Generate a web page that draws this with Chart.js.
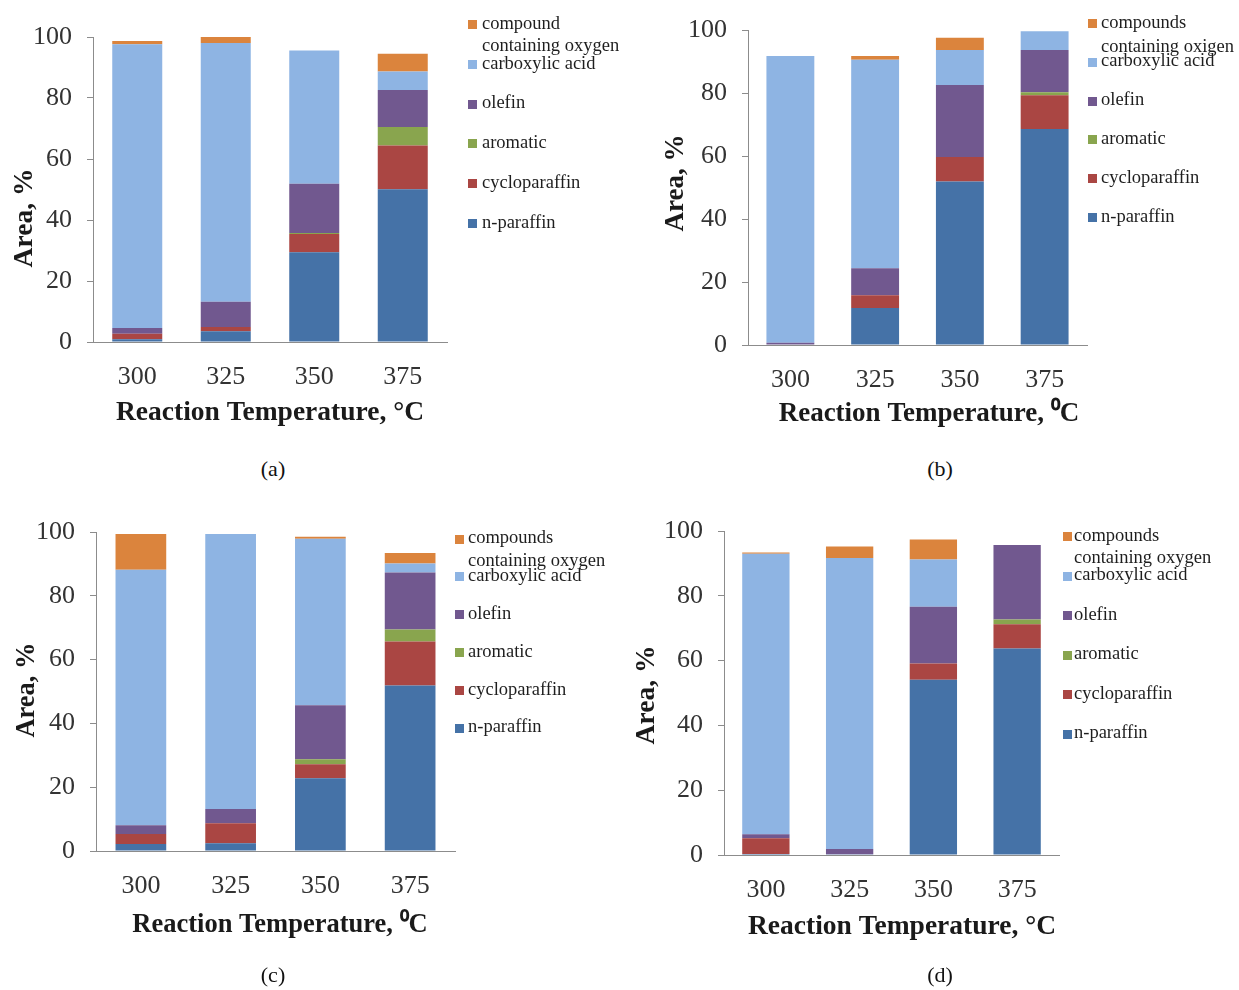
<!DOCTYPE html>
<html>
<head>
<meta charset="utf-8">
<script src="https://cdn.jsdelivr.net/npm/chart.js@4.4.1/dist/chart.umd.min.js"></script>
<style>
  html, body { margin: 0; padding: 0; background: #fff; }
  body { width: 1239px; height: 990px; position: relative; overflow: hidden; }
  canvas { position: absolute; }
  .caption { position: absolute; font: 22px "Liberation Serif", "Times New Roman", serif; color: #111;
             transform: translate(-50%, -50%); white-space: nowrap; }
</style>
</head>
<body>
<canvas id="chartA" width="620" height="440" style="left:0;top:0"></canvas>
<canvas id="chartB" width="619" height="440" style="left:620px;top:0"></canvas>
<canvas id="chartC" width="620" height="500" style="left:0;top:490px"></canvas>
<canvas id="chartD" width="619" height="500" style="left:620px;top:490px"></canvas>
<div class="caption" style="left:273px;top:469px">(a)</div>
<div class="caption" style="left:940px;top:469px">(b)</div>
<div class="caption" style="left:273px;top:975px">(c)</div>
<div class="caption" style="left:940px;top:975px">(d)</div>
<script>
// Reaction temperatures (°C) and y-axis tick values
const temperatures = ['300', '325', '350', '375'];
const areaTicks = [0, 20, 40, 60, 80, 100];

// Product groups, bottom of the stack first
const groupNames = ['n-paraffin', 'cycloparaffin', 'aromatic', 'olefin', 'carboxylic acid'];
const oxygenLabelA = ['compound', 'containing oxygen'];
const oxygenLabelB = ['compounds', 'containing oxigen'];
const oxygenLabelC = ['compounds', 'containing oxygen'];
const oxygenLabelD = ['compounds', 'containing oxygen'];

// x-axis titles
const xTitleDegree = 'Reaction Temperature, \u00B0C';
const xTitleSupZero = 'Reaction Temperature, \u2070C';

// (a) area %, per temperature
const aNParaffin    = [0.9, 3.5, 29.4, 50.1];
const aCycloparaffin= [1.8, 1.4, 6.0, 14.3];
const aAromatic     = [0.0, 0.0, 0.3, 6.1];
const aOlefin       = [1.9, 8.3, 16.2, 12.1];
const aCarboxylic   = [93.0, 84.8, 43.7, 6.1];
const aOxygenated   = [1.1, 2.0, 0.0, 5.8];

// (b)
const bNParaffin    = [0.0, 11.8, 52.0, 68.7];
const bCycloparaffin= [0.0, 4.0, 7.8, 10.7];
const bAromatic     = [0.0, 0.0, 0.0, 1.0];
const bOlefin       = [0.7, 8.6, 22.9, 13.4];
const bCarboxylic   = [91.2, 66.3, 11.1, 6.0];
const bOxygenated   = [0.0, 1.2, 3.9, 0.0];

// (c)
const cNParaffin    = [2.2, 2.4, 22.8, 51.9];
const cCycloparaffin= [3.1, 6.3, 4.4, 13.8];
const cAromatic     = [0.0, 0.0, 1.6, 3.7];
const cOlefin       = [2.8, 4.5, 16.9, 17.9];
const cCarboxylic   = [80.1, 86.2, 52.2, 2.8];
const cOxygenated   = [11.2, 0.0, 0.6, 3.3];

// (d)
const dNParaffin    = [0.3, 0.2, 54.1, 63.7];
const dCycloparaffin= [4.9, 0.0, 5.0, 7.5];
const dAromatic     = [0.0, 0.0, 0.0, 1.5];
const dOlefin       = [1.2, 1.65, 17.5, 23.0];
const dCarboxylic   = [86.6, 89.85, 14.6, 0.0];
const dOxygenated   = [0.4, 3.5, 6.2, 0.0];

const groupColors = ['#4572A7', '#AA4643', '#89A54E', '#71588F', '#8EB4E3', '#DB843D'];
const SERIF = '"Liberation Serif", "Times New Roman", serif';

// Legend, axis titles drawn on top of each panel
const panelDecor = {
  id: 'panelDecor',
  afterDraw(chart, args, o) {
    const ctx = chart.ctx;
    const ds = chart.data.datasets;
    ctx.save();
    ctx.textBaseline = 'middle';
    ctx.textAlign = 'left';
    ctx.font = o.legendFont + 'px ' + SERIF;
    for (let i = ds.length - 1, row = 0; i >= 0; i--, row++) {
      const y = o.legendTop + row * o.legendStep;
      ctx.fillStyle = ds[i].backgroundColor;
      ctx.fillRect(o.boxX, Math.round(y - 4), 9, 9);
      ctx.fillStyle = '#1e1e1e';
      ds[i].legendText.forEach((t, k) => ctx.fillText(t, o.textX, y + k * o.lineGap));
    }
    ctx.fillStyle = '#1a1a1a';
    ctx.textAlign = 'center';
    ctx.font = 'bold ' + o.titleFont + 'px ' + SERIF;
    ctx.fillText(o.xTitleText, o.xTitle[0], o.xTitle[1]);
    ctx.translate(o.yTitle[0], o.yTitle[1]);
    ctx.rotate(-Math.PI / 2);
    ctx.fillText('Area, %', 0, 0);
    ctx.restore();
  }
};

function buildPanel(id, values, oxygenLabel, area, decor) {
  const canvas = document.getElementById(id);
  const W = canvas.width, H = canvas.height;
  const labels = groupNames.map(n => [n]).concat([oxygenLabel]);
  const datasets = values.map((v, i) => ({
    label: labels[i].join(' '),
    legendText: labels[i],
    data: v,
    backgroundColor: groupColors[i],
    borderWidth: 0,
    categoryPercentage: 1.0,
    barPercentage: 0.565
  }));
  return new Chart(canvas, {
    type: 'bar',
    data: { labels: temperatures, datasets },
    options: {
      responsive: false,
      animation: false,
      events: [],
      layout: { padding: { left: 0, top: area.top, right: W - area.right, bottom: 0 } },
      plugins: { legend: { display: false }, tooltip: { enabled: false }, panelDecor: decor },
      scales: {
        x: {
          stacked: true,
          grid: { display: false },
          border: { display: true, color: '#8c8c8c', width: 1 },
          ticks: { color: '#333', padding: 12, font: { family: SERIF, size: 26 } },
          afterFit: s => { s.height = H - area.bottom; }
        },
        y: {
          stacked: true,
          min: 0, max: 100,
          afterBuildTicks: s => { s.ticks = areaTicks.map(v => ({ value: v })); },
          grid: { display: true, drawOnChartArea: false, drawTicks: true, tickLength: 6, color: '#8c8c8c' },
          border: { display: true, color: '#8c8c8c', width: 1 },
          ticks: { color: '#333', padding: 15, font: { family: SERIF, size: 26 } },
          afterFit: s => { s.width = area.left; }
        }
      }
    },
    plugins: [panelDecor]
  });
}

buildPanel('chartA',
  [aNParaffin, aCycloparaffin, aAromatic, aOlefin, aCarboxylic, aOxygenated], oxygenLabelA,
  { left: 93, top: 37, right: 447, bottom: 342 },
  { legendFont: 18.5, legendTop: 24, legendStep: 39.8, lineGap: 22, boxX: 468, textX: 482,
    titleFont: 27.5, xTitleText: xTitleDegree, xTitle: [270, 413], yTitle: [25, 218] });

buildPanel('chartB',
  [bNParaffin, bCycloparaffin, bAromatic, bOlefin, bCarboxylic, bOxygenated], oxygenLabelB,
  { left: 128, top: 27, right: 467, bottom: 345 },
  { legendFont: 18.5, legendTop: 22.7, legendStep: 38.9, lineGap: 24, boxX: 468, textX: 481,
    titleFont: 27, xTitleText: xTitleSupZero, xTitle: [309, 414], yTitle: [56, 183] });

buildPanel('chartC',
  [cNParaffin, cCycloparaffin, cAromatic, cOlefin, cCarboxylic, cOxygenated], oxygenLabelC,
  { left: 96, top: 42, right: 455, bottom: 361 },
  { legendFont: 18.5, legendTop: 48.5, legendStep: 37.8, lineGap: 23, boxX: 455, textX: 468,
    titleFont: 26.5, xTitleText: xTitleSupZero, xTitle: [280, 435], yTitle: [27, 200] });

buildPanel('chartD',
  [dNParaffin, dCycloparaffin, dAromatic, dOlefin, dCarboxylic, dOxygenated], oxygenLabelD,
  { left: 104, top: 41, right: 439, bottom: 365 },
  { legendFont: 18.5, legendTop: 46, legendStep: 39.5, lineGap: 22, boxX: 443, textX: 454,
    titleFont: 27.5, xTitleText: xTitleDegree, xTitle: [282, 437], yTitle: [27, 205] });
</script>
</body>
</html>
